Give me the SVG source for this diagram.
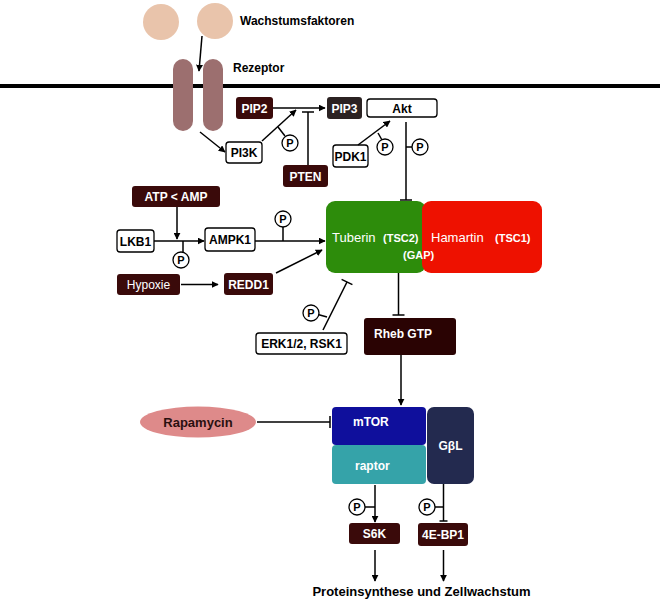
<svg xmlns="http://www.w3.org/2000/svg" width="660" height="600" viewBox="0 0 660 600">
<defs>
<marker id="ah" viewBox="0 0 10 10" refX="9" refY="5" markerWidth="7" markerHeight="7" orient="auto" markerUnits="userSpaceOnUse"><path d="M0,0 L10,5 L0,10 z" fill="#000"/></marker>
<style>
text{font-family:"Liberation Sans",Arial,sans-serif;font-weight:bold;font-size:12px}
.w{fill:#fff}
.k{fill:#000}
.dk{fill:#3a0a0a}
.wb{fill:#fff;stroke:#000;stroke-width:1.3}
.ln{stroke:#000;stroke-width:1.5;fill:none}
.ar{stroke:#000;stroke-width:1.5;fill:none;marker-end:url(#ah)}
.pc{fill:#fff;stroke:#000;stroke-width:1.3}
.pt{font-size:11px;text-anchor:middle}
</style>
</defs>
<rect width="660" height="600" fill="#fff"/>
<line x1="0" y1="86" x2="660" y2="86" stroke="#000" stroke-width="4"/>
<g id="wachstumsfaktoren">
<circle cx="161" cy="22" r="18" fill="#e9c4ab"/>
<circle cx="215" cy="21" r="18" fill="#e9c4ab"/>
<text x="240" y="25" class="k">Wachstumsfaktoren</text>
</g>
<g id="rezeptor">
<rect x="173" y="59" width="20" height="72" rx="10" fill="#9c6f6f"/>
<rect x="203" y="59" width="20" height="72" rx="10" fill="#9c6f6f"/>
<text x="233" y="72" class="k">Rezeptor</text>
</g>
<g id="pip2"><rect x="236" y="97" width="37" height="22" rx="3" class="dk"/><text x="254.5" y="112.5" class="w" text-anchor="middle">PIP2</text></g>
<g id="pip3"><rect x="327" y="97" width="35" height="22" rx="3" fill="#2b2222"/><text x="344.5" y="112.5" class="w" text-anchor="middle">PIP3</text></g>
<g id="akt"><rect x="367" y="99" width="70" height="18" rx="3" class="wb"/><text x="402" y="112.5" class="k" text-anchor="middle">Akt</text></g>
<g id="pi3k"><rect x="226" y="142" width="36" height="21" rx="3" class="wb"/><text x="244" y="157" class="k" text-anchor="middle">PI3K</text></g>
<g id="pten"><rect x="283" y="165" width="45" height="22" rx="3" class="dk"/><text x="305.5" y="180.5" class="w" text-anchor="middle">PTEN</text></g>
<g id="pdk1"><rect x="333" y="145" width="35" height="22" rx="3" class="wb"/><text x="350.5" y="160.5" class="k" text-anchor="middle">PDK1</text></g>
<g id="atp"><rect x="132" y="186" width="88" height="21" rx="3" class="dk"/><text x="176" y="201" class="w" text-anchor="middle">ATP &lt; AMP</text></g>
<g id="lkb1"><rect x="117" y="230" width="37" height="22" rx="3" class="wb"/><text x="135.5" y="245.5" class="k" text-anchor="middle">LKB1</text></g>
<g id="ampk1"><rect x="205" y="228" width="50" height="23" rx="3" class="wb"/><text x="230" y="244" class="k" text-anchor="middle">AMPK1</text></g>
<g id="hypoxie"><rect x="117" y="274" width="63" height="21" rx="3" class="dk"/><text x="148.5" y="289" class="w" text-anchor="middle" style="font-weight:normal">Hypoxie</text></g>
<g id="redd1"><rect x="224" y="273" width="49" height="22" rx="3" class="dk"/><text x="248.5" y="288.5" class="w" text-anchor="middle">REDD1</text></g>
<g id="tsc">
<rect x="326" y="201" width="100" height="72" rx="9" fill="#2d8c0b"/>
<rect x="422" y="201" width="120" height="72" rx="9" fill="#ee1100"/>
<text x="332" y="242" class="w" style="font-weight:normal;font-size:13px">Tuberin</text>
<text x="383" y="242" class="w" style="font-size:11px">(TSC2)</text>
<text x="403" y="259" class="w" style="font-size:11px">(GAP)</text>
<text x="431" y="242" class="w" style="font-weight:normal;font-size:13px">Hamartin</text>
<text x="495" y="242" class="w" style="font-size:11px">(TSC1)</text>
</g>
<g id="rheb"><rect x="364" y="318" width="92" height="37" rx="3" fill="#2a0303"/><text x="374" y="338" class="w">Rheb GTP</text></g>
<g id="erk"><rect x="256" y="333" width="91" height="21" rx="3" class="wb"/><text x="301.5" y="348" class="k" text-anchor="middle">ERK1/2, RSK1</text></g>
<g id="rapamycin"><ellipse cx="198" cy="422" rx="58" ry="15.5" fill="#de8a8a"/><text x="198" y="426.5" text-anchor="middle" fill="#2a1010" style="font-size:13px">Rapamycin</text></g>
<g id="mtor"><rect x="332" y="407" width="94" height="38" rx="4" fill="#0f0f9c"/><text x="353" y="425.5" class="w">mTOR</text></g>
<g id="raptor"><rect x="332" y="445" width="94" height="39" rx="4" fill="#35a3a9"/><text x="355" y="470" class="w">raptor</text></g>
<g id="gbl"><rect x="427" y="407" width="47" height="77" rx="7" fill="#232a4f"/><text x="450.5" y="450" class="w" text-anchor="middle">GβL</text></g>
<g id="s6k"><rect x="349" y="523" width="51" height="21" rx="3" class="dk"/><text x="374.5" y="538" class="w" text-anchor="middle">S6K</text></g>
<g id="4ebp1"><rect x="418" y="523" width="50" height="23" rx="3" class="dk"/><text x="443" y="538.5" class="w" text-anchor="middle">4E-BP1</text></g>
<g id="ergebnis"><text x="421.5" y="596" class="k" text-anchor="middle" style="font-size:13px">Proteinsynthese und Zellwachstum</text></g>
<g id="connectors">
<line x1="202" y1="36" x2="199" y2="71" class="ar"/>
<line x1="200" y1="132" x2="225" y2="152" class="ar"/>
<line x1="273" y1="108" x2="325" y2="108" class="ar"/>
<line x1="262" y1="141" x2="296" y2="110" class="ar"/>
<line x1="278" y1="127" x2="285" y2="136" class="ln"/>
<circle cx="290" cy="143" r="8" class="pc"/><text x="290" y="147" class="pt">P</text>
<line x1="308" y1="165" x2="308" y2="112" class="ln"/>
<line x1="302" y1="112" x2="314" y2="112" class="ln"/>
<line x1="358" y1="145" x2="390" y2="121" class="ar"/>
<line x1="378" y1="133" x2="382" y2="140" class="ln"/>
<circle cx="385" cy="147" r="8" class="pc"/><text x="385" y="151" class="pt">P</text>
<line x1="406" y1="122" x2="406" y2="200" class="ln"/>
<line x1="400" y1="200" x2="412" y2="200" class="ln"/>
<line x1="406" y1="147" x2="412" y2="147" class="ln"/>
<circle cx="420" cy="147" r="8" class="pc"/><text x="420" y="151" class="pt">P</text>
<line x1="177" y1="207" x2="177" y2="239" class="ar"/>
<line x1="154" y1="241" x2="204" y2="241" class="ar"/>
<line x1="183" y1="241" x2="183" y2="252" class="ln"/>
<circle cx="181" cy="260" r="8" class="pc"/><text x="181" y="264" class="pt">P</text>
<line x1="255" y1="241" x2="325" y2="241" class="ar"/>
<line x1="283" y1="241" x2="283" y2="227" class="ln"/>
<circle cx="283" cy="219" r="8" class="pc"/><text x="283" y="223" class="pt">P</text>
<line x1="181" y1="284.5" x2="218" y2="284.5" class="ar"/>
<line x1="276" y1="273" x2="322" y2="250" class="ar"/>
<line x1="323" y1="330" x2="347" y2="282" class="ln"/>
<line x1="341.6" y1="279.3" x2="352.4" y2="284.7" class="ln"/>
<line x1="327" y1="317" x2="318" y2="314.5" class="ln"/>
<circle cx="311" cy="313" r="8" class="pc"/><text x="311" y="317" class="pt">P</text>
<line x1="398.5" y1="273" x2="398.5" y2="315" class="ln"/>
<line x1="392.5" y1="315" x2="404.5" y2="315" class="ln"/>
<line x1="401" y1="355" x2="401" y2="405" class="ar"/>
<line x1="257" y1="422" x2="330" y2="422" class="ln"/>
<line x1="330" y1="416" x2="330" y2="428" class="ln"/>
<line x1="375" y1="485" x2="375" y2="522" class="ar"/>
<line x1="365" y1="507" x2="375" y2="507" class="ln"/>
<circle cx="357" cy="507" r="8" class="pc"/><text x="357" y="511" class="pt">P</text>
<line x1="443.5" y1="484" x2="443.5" y2="521" class="ln"/>
<line x1="439.5" y1="521" x2="447.5" y2="521" class="ln"/>
<line x1="435" y1="507" x2="443.5" y2="507" class="ln"/>
<circle cx="427" cy="507" r="8" class="pc"/><text x="427" y="511" class="pt">P</text>
<line x1="375" y1="550" x2="375" y2="581" class="ar"/>
<line x1="443.5" y1="550" x2="443.5" y2="581" class="ar"/>
</g>
</svg>
